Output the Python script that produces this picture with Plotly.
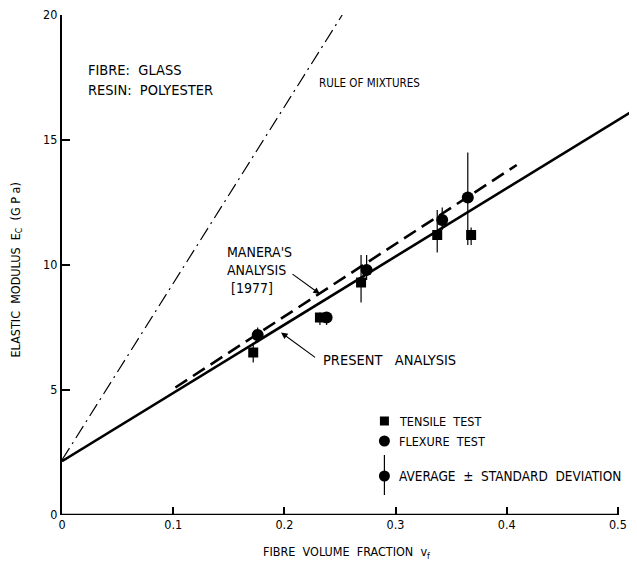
import plotly.graph_objects as go

# ---- data ----
tensile_vf = [0.172, 0.232, 0.269, 0.3375, 0.368]
tensile_E = [6.5, 7.9, 9.3, 11.2, 11.2]
tensile_plus = [0.3, 0.2, 1.1, 1.0, 0.3]
tensile_minus = [0.4, 0.3, 0.8, 0.7, 0.4]

flexure_vf = [0.176, 0.238, 0.274, 0.342, 0.365]
flexure_E = [7.2, 7.9, 9.8, 11.8, 12.7]
flexure_plus = [0.3, 0.2, 0.6, 0.5, 1.8]
flexure_minus = [0.3, 0.3, 0.4, 0.4, 1.9]

rom_vf = [0.0, 0.252]
rom_E = [2.2, 20.0]

present_vf = [0.0, 0.511]
present_E = [2.15, 16.1]

manera_vf = [0.102, 0.409]
manera_E = [5.1, 14.0]

x_ticks = [0, 0.1, 0.2, 0.3, 0.4, 0.5]
x_ticklabels = ["0", "0.1", "0.2", "0.3", "0.4", "0.5"]
y_ticks = [0, 5, 10, 15, 20]
y_ticklabels = ["0", "5", "10", "15", "20"]

FONT = "DejaVu Sans Condensed, Liberation Sans, sans-serif"
fig = go.Figure()

fig.add_trace(go.Scatter(x=rom_vf, y=rom_E, mode="lines",
                         line=dict(color="black", width=1.2, dash="14px,5px,2px,5px"),
                         showlegend=False, cliponaxis=False))
fig.add_trace(go.Scatter(x=present_vf, y=present_E, mode="lines",
                         line=dict(color="black", width=2.6), showlegend=False))
fig.add_trace(go.Scatter(x=manera_vf, y=manera_E, mode="lines",
                         line=dict(color="black", width=2.6, dash="14px,7px"),
                         showlegend=False))

fig.add_trace(go.Scatter(x=tensile_vf, y=tensile_E, mode="markers",
                         marker=dict(symbol="square", size=10, color="black"),
                         error_y=dict(type="data", array=tensile_plus, arrayminus=tensile_minus,
                                      color="black", thickness=1.2, width=0),
                         showlegend=False))
fig.add_trace(go.Scatter(x=flexure_vf, y=flexure_E, mode="markers",
                         marker=dict(symbol="circle", size=12, color="black"),
                         error_y=dict(type="data", array=flexure_plus, arrayminus=flexure_minus,
                                      color="black", thickness=1.2, width=0),
                         showlegend=False))

# legend samples
leg_x = 0.29
fig.add_trace(go.Scatter(x=[leg_x], y=[3.76], mode="markers",
                         marker=dict(symbol="square", size=9, color="black"), showlegend=False))
fig.add_trace(go.Scatter(x=[leg_x], y=[2.96], mode="markers",
                         marker=dict(symbol="circle", size=11, color="black"), showlegend=False))
fig.add_trace(go.Scatter(x=[leg_x], y=[1.56], mode="markers",
                         marker=dict(symbol="circle", size=11, color="black"),
                         error_y=dict(type="data", array=[0.84], arrayminus=[0.76],
                                      color="black", thickness=1.2, width=0),
                         showlegend=False))

ann = []
def txt(x, y, t, size=13, **kw):
    d = dict(x=x, y=y, xref="x", yref="y", text=t, showarrow=False,
             xanchor="left", yanchor="middle",
             font=dict(family=FONT, size=size, color="black"), align="left")
    d.update(kw)
    ann.append(d)

txt(0.301, 3.76, "TENSILE  TEST", size=12.5)
txt(0.301, 2.96, "FLEXURE  TEST", size=12.5)
txt(0.301, 1.56, "AVERAGE  ±  STANDARD  DEVIATION", size=13.5)
txt(0.022, 17.8, "FIBRE:  GLASS", size=14.5)
txt(0.022, 17.0, "RESIN:  POLYESTER", size=14.5)
txt(0.229, 17.3, "RULE OF MIXTURES", size=11.5)
txt(0.147, 9.8, "MANERA'S<br>ANALYSIS<br> [1977]", size=14)
txt(0.233, 6.2, "PRESENT   ANALYSIS", size=14.5)

# arrows
ann.append(dict(x=0.232, y=8.84, ax=0.206, ay=9.68, xref="x", yref="y", axref="x", ayref="y",
                showarrow=True, arrowhead=2, arrowsize=1.2, arrowwidth=1.1, arrowcolor="black", text=""))
ann.append(dict(x=0.197, y=7.3, ax=0.229, ay=6.26, xref="x", yref="y", axref="x", ayref="y",
                showarrow=True, arrowhead=2, arrowsize=1.2, arrowwidth=1.1, arrowcolor="black", text=""))

# axis titles (paper coords so they are not hidden outside the axis ranges)
ann.append(dict(x=-0.082, y=0.49, xref="paper", yref="paper", showarrow=False, textangle=-90,
                xanchor="center", yanchor="middle",
                text="ELASTIC  MODULUS  E<sub>C</sub>  (G P a)",
                font=dict(family=FONT, size=12.5, color="black")))
ann.append(dict(x=0.502, y=-0.074, xref="paper", yref="paper", showarrow=False,
                xanchor="center", yanchor="middle",
                text="FIBRE  VOLUME  FRACTION  v<sub>f</sub>",
                font=dict(family=FONT, size=12.5, color="black")))

# axis line (x axis ends at 0.5)
axis_shapes = [
    dict(type="line", x0=0, x1=0.5, y0=0, y1=0, xref="x", yref="y", layer="above",
         line=dict(color="black", width=2.4)),
]
fig.update_layout(annotations=ann, shapes=axis_shapes)

fig.update_xaxes(range=[0, 0.51], tickvals=x_ticks, ticktext=x_ticklabels,
                 ticks="inside", ticklen=8, tickwidth=1.8, tickcolor="black",
                 showgrid=False, zeroline=False, showline=False, automargin=False,
                 ticklabeloverflow="allow",
                 tickfont=dict(family=FONT, size=12.5, color="black"))
fig.update_yaxes(range=[0, 20], tickvals=y_ticks, ticktext=y_ticklabels,
                 ticks="inside", ticklen=8, tickwidth=1.8, tickcolor="black",
                 showgrid=False, zeroline=False, showline=True, linecolor="black",
                 linewidth=2.4, automargin=False, ticklabeloverflow="allow",
                 tickfont=dict(family=FONT, size=12.5, color="black"))

# page body has an 8px margin; size the figure so it fits the window without overflow
fig.update_layout(width=621, height=553,
                  margin=dict(l=54, r=0, t=7, b=46),
                  plot_bgcolor="white", paper_bgcolor="white",
                  showlegend=False)

fig.write_html("out.html")
